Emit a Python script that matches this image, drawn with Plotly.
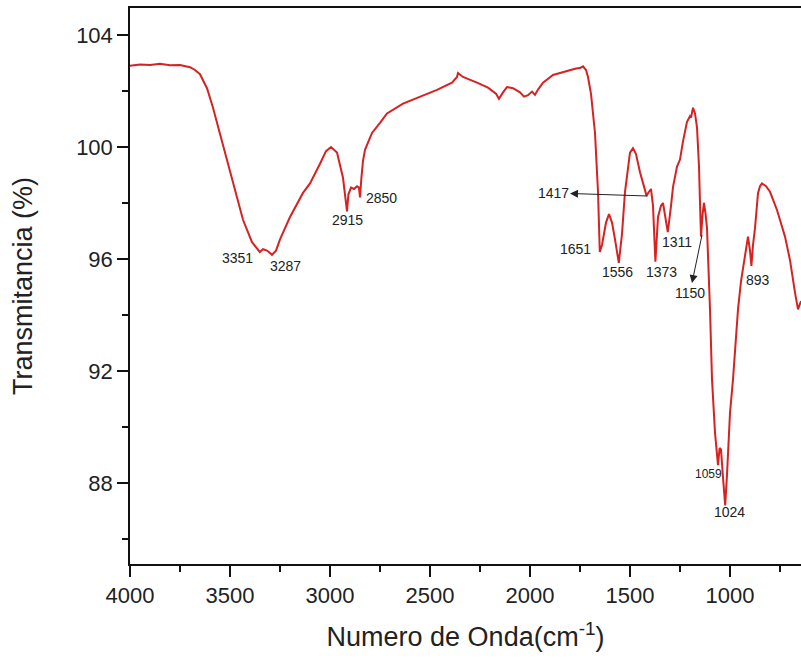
import plotly.graph_objects as go

wavenumber = [4000, 3950, 3900, 3850, 3800, 3750, 3700, 3675, 3650, 3615, 3585, 3535,
              3485, 3435, 3390, 3360, 3351, 3335, 3315, 3290, 3270, 3250, 3200, 3135,
              3100, 3050, 3020, 2995, 2965, 2935, 2922, 2915, 2908, 2895, 2880, 2865,
              2855, 2850, 2843, 2835, 2825, 2790, 2750, 2715, 2635, 2550, 2465, 2390,
              2365, 2360, 2335, 2265, 2210, 2170, 2155, 2135, 2115, 2085, 2050, 2030,
              2010, 1990, 1975, 1960, 1935, 1885, 1800, 1770, 1750, 1735, 1720, 1710,
              1695, 1685, 1675, 1660, 1651, 1640, 1620, 1605, 1590, 1575, 1556, 1540,
              1525, 1500, 1485, 1470, 1450, 1425, 1417, 1410, 1395, 1385, 1373, 1360,
              1345, 1335, 1325, 1311, 1295, 1285, 1265, 1250, 1235, 1215, 1200, 1195,
              1185, 1175, 1165, 1155, 1150, 1145, 1137, 1130, 1122, 1115, 1100, 1090,
              1075, 1060, 1052, 1045, 1035, 1024, 1015, 1000, 985, 970, 960, 945,
              935, 920, 910, 900, 893, 885, 875, 860, 850, 840, 830, 820,
              800, 765, 725, 700, 675, 660, 645]
transmittance = [102.9, 102.95, 102.93, 102.97, 102.92, 102.93, 102.85, 102.75, 102.6, 102.1, 101.4, 100.1,
                 98.7, 97.4, 96.6, 96.3, 96.25, 96.35, 96.3, 96.15, 96.3, 96.7, 97.5, 98.36,
                 98.7, 99.4, 99.85, 100.0, 99.8, 98.9, 98.2, 97.7, 98.3, 98.55, 98.5, 98.6,
                 98.55, 98.2, 98.9, 99.5, 99.9, 100.5, 100.86, 101.2, 101.55, 101.8, 102.04, 102.3,
                 102.5, 102.64, 102.5, 102.3, 102.12, 101.9, 101.72, 101.95, 102.14, 102.1, 101.95, 101.8,
                 101.85, 101.98, 101.86, 102.05, 102.3, 102.57, 102.75, 102.8, 102.82, 102.88, 102.75, 102.5,
                 101.9, 101.1, 100.5, 98.4, 96.25, 96.5, 97.3, 97.6, 97.3, 96.7, 95.86, 96.9,
                 98.4, 99.8, 99.96, 99.75, 99.1, 98.46, 98.25, 98.35, 98.5, 97.9, 95.9, 97.5,
                 97.9, 98.0, 97.6, 96.96, 97.9, 98.57, 99.3, 99.55, 100.2, 100.9, 101.1, 101.05,
                 101.4, 101.2, 100.7, 99.3, 98.0, 96.8, 97.6, 98.0, 97.6, 97.1, 94.2, 91.7,
                 89.8, 88.64, 89.25, 89.2, 88.2, 87.2, 88.3, 90.5, 91.7, 93.2, 94.2, 95.2,
                 95.7, 96.4, 96.8, 96.3, 95.75, 96.5, 97.1, 98.35, 98.6, 98.7, 98.65, 98.6,
                 98.4, 97.75, 96.8, 95.96, 94.8, 94.2, 94.5]

x_ticks = [4000, 3500, 3000, 2500, 2000, 1500, 1000]
y_ticks = [88, 92, 96, 100, 104]

peak_labels = ["3351", "3287", "2915", "2850", "1651", "1556", "1373", "1311", "893", "1059", "1024"]
peak_label_x = [3465, 3225, 2915, 2745, 1775, 1565, 1345, 1265, 860, 1110, 1005]
peak_label_y = [96.04, 95.75, 97.4, 98.18, 96.36, 95.54, 95.54, 96.6, 95.25, 88.32, 86.96]
peak_label_size = [14, 14, 14, 14, 14, 14, 14, 14, 14, 12, 14]

# labels with arrows: text position, pointed curve position
arrow_labels = ["1417", "1150"]
arrow_text_x = [1885, 1200]
arrow_text_y = [98.36, 94.8]
arrow_peak_x = [1415, 1140]
arrow_peak_y = [98.25, 96.86]

FONT = "Liberation Sans, Arial, sans-serif"

fig = go.Figure()
fig.add_trace(go.Scatter(x=wavenumber, y=transmittance, mode="lines",
                         line=dict(color="#d62222", width=2), showlegend=False))

for t, xx, yy, s in zip(peak_labels, peak_label_x, peak_label_y, peak_label_size):
    fig.add_annotation(x=xx, y=yy, text=t, showarrow=False,
                       font=dict(family=FONT, size=s, color="#222"))

for t, tx, ty, px, py in zip(arrow_labels, arrow_text_x, arrow_text_y, arrow_peak_x, arrow_peak_y):
    fig.add_annotation(x=px, y=py, ax=tx, ay=ty, axref="x", ayref="y",
                       text=t, showarrow=True, arrowside="start", startarrowhead=2,
                       startarrowsize=1.6, arrowwidth=1, arrowcolor="#222",
                       font=dict(family=FONT, size=14, color="#222"))

fig.update_layout(
    width=801, height=660,
    margin=dict(l=130, r=0, t=8, b=96),
    paper_bgcolor="white", plot_bgcolor="white",
    font=dict(family=FONT, color="#222"),
    xaxis=dict(range=[4000, 645], tickvals=x_ticks, ticks="outside", ticklen=11,
               tickwidth=1.5, tickcolor="#111", showline=True, linecolor="#111",
               linewidth=1.5, mirror=True, showgrid=False, zeroline=False,
               tickfont=dict(size=22),
               minor=dict(ticks="outside", ticklen=6, tickwidth=1.5, tickcolor="#111", dtick=250, showgrid=False),
               title=dict(text="Numero de Onda(cm<sup>-1</sup>)", font=dict(size=27), standoff=20)),
    yaxis=dict(range=[85.107, 104.964], tickvals=y_ticks, ticks="outside", ticklen=11,
               tickwidth=1.5, tickcolor="#111", showline=True, linecolor="#111",
               linewidth=1.5, mirror=False, showgrid=False, zeroline=False,
               tickfont=dict(size=22),
               minor=dict(ticks="outside", ticklen=6, tickwidth=1.5, tickcolor="#111", dtick=2, showgrid=False),
               title=dict(text="Transmitancia (%)", font=dict(size=27), standoff=36)),
)

fig.write_html("out.html", config={"displayModeBar": False},
               post_script="document.body.style.margin='0';")
